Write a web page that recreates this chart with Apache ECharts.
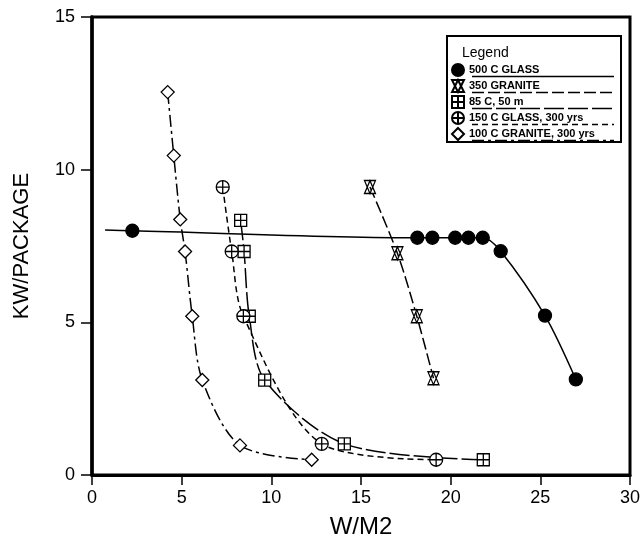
<!DOCTYPE html>
<html>
<head>
<meta charset="utf-8">
<script src="https://cdn.jsdelivr.net/npm/echarts@6/dist/echarts.min.js"></script>
<style>
html,body{margin:0;padding:0;background:#fff;}
#chart{width:644px;height:544px;}
</style>
</head>
<body>
<div id="chart"></div>
<script>
// ---- data ----
const seriesNames = ['500 C GLASS', '350 GRANITE', '85 C, 50 m', '150 C GLASS, 300 yrs', '100 C GRANITE, 300 yrs'];

const glass500X = [0.73, 2.25, 18.14, 18.98, 20.25, 20.99, 21.79, 22.79, 25.26, 26.98];
const glass500Y = [8.02, 8.00, 7.77, 7.77, 7.77, 7.77, 7.77, 7.33, 5.22, 3.13];

const granite350X = [15.50, 17.03, 18.11, 19.04];
const granite350Y = [9.43, 7.26, 5.20, 3.17];

const c85X = [8.29, 8.48, 8.77, 9.63, 14.07, 21.82];
const c85Y = [8.34, 7.32, 5.20, 3.11, 1.02, 0.50];

const glass150X = [7.29, 7.79, 8.44, 12.81, 19.19];
const glass150Y = [9.43, 7.32, 5.20, 1.02, 0.50];

const granite100X = [4.22, 4.56, 4.92, 5.19, 5.59, 6.15, 8.25, 12.25];
const granite100Y = [12.54, 10.46, 8.37, 7.32, 5.20, 3.11, 0.97, 0.50];

const xTicks = [0, 5, 10, 15, 20, 25, 30];
const yTicks = [0, 5, 10, 15];

// ---- symbols ----
const symCrossSquare = 'path://M0,0L10,0L10,10L0,10Z M5,0L5,10 M0,5L10,5';
const symCrossCircle = 'path://M0,5A5,5 0 1 1 10,5A5,5 0 1 1 0,5Z M5,0L5,10 M0,5L10,5';
const symHourglass = 'path://M0,0L10,0L5,10Z M0,10L10,10L5,0Z';

function pairs(xs, ys) { return xs.map((x, i) => [x, ys[i]]); }

const dashes = ['solid', [12, 4], [20, 4], [6, 4], [12, 4, 3, 4]];
const symbols = ['circle', symHourglass, symCrossSquare, symCrossCircle, 'diamond'];
const sizes = [13, [11, 13], 12, 13, 13];
const datas = [
  pairs(glass500X, glass500Y).map((p, i) => i === 0 ? {value: p, symbol: 'none'} : p),
  pairs(granite350X, granite350Y),
  pairs(c85X, c85Y),
  pairs(glass150X, glass150Y),
  pairs(granite100X, granite100Y)
];

const series = seriesNames.map((name, i) => ({
  name: name,
  type: 'line',
  data: datas[i],
  smooth: 0.3,
  symbol: symbols[i],
  symbolSize: sizes[i],
  showSymbol: true,
  lineStyle: {color: '#000', width: 1.5, type: dashes[i]},
  itemStyle: {
    color: i === 0 ? '#000' : '#fff',
    borderColor: '#000',
    borderWidth: 1.3
  },
  emphasis: {disabled: true},
  z: 3 + i
}));

const chart = echarts.init(document.getElementById('chart'), null, {renderer: 'canvas'});

const font = '"Liberation Sans", Arial, sans-serif';

// legend sample lines (decoration under legend text)
const legendRowsY = [70, 86, 102, 118, 134];
const legendLines = seriesNames.map((n, i) => ({
  type: 'line',
  z: 100,
  shape: {x1: 472, y1: legendRowsY[i] + 6.5, x2: 614, y2: legendRowsY[i] + 6.5},
  style: {stroke: '#000', lineWidth: 1.3, lineDash: dashes[i] === 'solid' ? null : dashes[i]}
}));

chart.setOption({
  animation: false,
  backgroundColor: '#fff',
  grid: {
    left: 92, right: 14, top: 17, bottom: 66,
    show: true, borderColor: '#000', borderWidth: 3, backgroundColor: 'transparent'
  },
  xAxis: {
    type: 'value', min: xTicks[0], max: xTicks[xTicks.length - 1], interval: 5,
    name: 'W/M2', nameLocation: 'middle', nameGap: 40,
    nameTextStyle: {fontFamily: font, fontSize: 24, color: '#000'},
    axisLine: {show: true, onZero: false, lineStyle: {color: '#000', width: 3}},
    axisTick: {show: true, length: 10, lineStyle: {color: '#000', width: 1.5}},
    axisLabel: {fontFamily: font, fontSize: 18, color: '#000', margin: 14},
    splitLine: {show: false}
  },
  yAxis: {
    type: 'value', min: yTicks[0], max: yTicks[yTicks.length - 1], interval: 5,
    name: 'KW/PACKAGE', nameLocation: 'middle', nameGap: 59, nameRotate: 90,
    nameTextStyle: {fontFamily: font, fontSize: 22, color: '#000'},
    axisLine: {show: true, onZero: false, lineStyle: {color: '#000', width: 3.5}},
    axisTick: {show: true, length: 11, lineStyle: {color: '#000', width: 1.5}},
    axisLabel: {fontFamily: font, fontSize: 18, color: '#000', margin: 17},
    splitLine: {show: false}
  },
  legend: {
    orient: 'vertical',
    left: 446, top: 58,
    itemWidth: 12, itemHeight: 12, itemGap: 2,
    selectedMode: false,
    textStyle: {fontFamily: font, fontSize: 11, fontWeight: 'bold', color: '#000', lineHeight: 14},
    data: seriesNames.map((n, i) => ({name: n, icon: symbols[i]})),
    z: 110
  },
  graphic: [
    {
      type: 'rect', z: 90,
      shape: {x: 447, y: 36, width: 174, height: 106},
      style: {fill: '#fff', stroke: '#000', lineWidth: 2}
    },
    {
      type: 'text', z: 100,
      x: 462, y: 46,
      style: {text: 'Legend', font: '14px ' + font, fill: '#000'}
    }
  ].concat(legendLines),
  series: series
});
</script>
</body>
</html>
